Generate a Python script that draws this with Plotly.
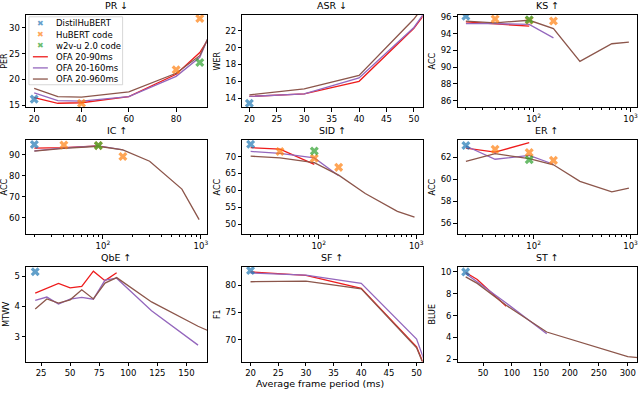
import plotly.graph_objects as go

# panel titles and metric names, in reading order
TASKS = ["PR ↓", "ASR ↓", "KS ↑", "IC ↑", "SID ↑", "ER ↑", "QbE ↑", "SF ↑", "ST ↑"]
METRICS = ["PER", "WER", "ACC", "ACC", "ACC", "ACC", "MTWV", "F1", "BLUE"]

# OFA curves (frame period in ms -> score); shorter lists use the first points of x
PR_X = [20, 30, 40, 60, 80, 90, 100]
PR_OFA90 = [16.5, 15.4, 15.5, 16.7, 21.0, 25.2, 32.5]
PR_OFA160 = [17.4, 15.9, 15.8, 16.7, 20.6, 24.3, 35.0]
PR_OFA960 = [18.3, 16.7, 16.6, 17.6, 21.2, 24.6, 34.3]

ASR_X = [20, 30, 40, 50, 60]
ASR_OFA90 = [14.2, 14.5, 16.0, 22.3, 31.0]
ASR_OFA160 = [14.2, 14.5, 16.4, 22.4, 31.5]
ASR_OFA960 = [14.4, 15.1, 16.7, 23.4, 32.0]

LOG_X = [20, 40, 90, 160, 300, 640, 960]
KS_OFA90 = [95.4, 95.2, 94.9]
KS_OFA160 = [95.2, 95.2, 95.1, 93.5]
KS_OFA960 = [95.5, 95.3, 95.6, 94.6, 90.7, 92.8, 93.0]

IC_OFA90 = [93.1, 93.3, 94.2]
IC_OFA160 = [91.8, 93.2, 94.2, 92.3]
IC_OFA960 = [91.7, 93.0, 94.0, 92.3, 86.9, 73.7, 59.2]

SID_OFA90 = [72.6, 72.2, 67.7]
SID_OFA160 = [71.5, 70.9, 69.6, 64.3]
SID_OFA960 = [70.1, 69.6, 68.2, 64.5, 59.1, 53.8, 52.1]

ER_OFA90 = [62.8, 62.45, 63.3]
ER_OFA160 = [63.0, 61.8, 62.15, 61.35]
ER_OFA960 = [61.6, 62.3, 61.85, 61.3, 59.8, 58.85, 59.2]

QBE_X = [20, 30, 40, 50, 60, 70, 80, 90, 120, 160, 300]
QBE_OFA90 = [4.44, 4.60, 4.76, 4.61, 4.66, 5.16, 4.85, 5.11]
QBE_OFA160 = [4.20, 4.31, 4.08, 4.24, 4.30, 4.24, 4.87, 4.93, 3.86, 2.73]
QBE_OFA960 = [3.92, 4.25, 4.11, 4.22, 4.55, 4.25, 4.77, 4.95, 4.15, 3.35, 1.0]

SF_X = [20, 30, 40, 50, 60]
SF_OFA90 = [82.4, 81.75, 79.4, 68.7, 44.0]
SF_OFA160 = [82.2, 81.8, 80.3, 70.1, 42.0]
SF_OFA960 = [80.6, 80.7, 79.3, 68.5, 44.0]

ST_X = [20, 40, 90, 160, 300, 640]
ST_OFA90 = [9.94, 9.3, 6.85]
ST_OFA160 = [9.85, 9.1, 7.15, 4.35]
ST_OFA960 = [9.55, 8.95, 6.94, 4.5, 2.25, 0.3]

# baselines
DISTIL_X = 20
DISTIL_Y = [16.2, 13.4, 96.08, 94.8, 73.6, 63.05, 5.14, 82.65, 10.0]
HUBERT_X = [[40, 80, 90], [], [40, 90, 160], [40, 90, 160], [40, 90, 160], [40, 90, 160], [], [], []]
HUBERT_Y = [[15.4, 21.9, 31.8], [], [95.75, 95.6, 95.5], [94.6, 94.3, 89.1],
            [71.5, 69.5, 66.8], [62.7, 62.4, 61.7], [], [], []]
W2VU_X = 90
W2VU_Y = [23.3, None, 95.65, 94.3, 71.6, 61.75, None, None, None]

CURVES = [
    (PR_X, PR_OFA90, PR_OFA160, PR_OFA960),
    (ASR_X, ASR_OFA90, ASR_OFA160, ASR_OFA960),
    (LOG_X, KS_OFA90, KS_OFA160, KS_OFA960),
    (LOG_X, IC_OFA90, IC_OFA160, IC_OFA960),
    (LOG_X, SID_OFA90, SID_OFA160, SID_OFA960),
    (LOG_X, ER_OFA90, ER_OFA160, ER_OFA960),
    (QBE_X, QBE_OFA90, QBE_OFA160, QBE_OFA960),
    (SF_X, SF_OFA90, SF_OFA160, SF_OFA960),
    (ST_X, ST_OFA90, ST_OFA160, ST_OFA960),
]

# axis setup per panel: (type, xrange, xdtick, yrange, ydtick)
AXES = [
    ("linear", [16.5, 93.2], 20, [14.6, 32.5], 5),
    ("linear", [18.7, 51.6], 5, [12.9, 23.9], 2),
    ("log", [1.215, 3.066], None, [85.2, 96.25], 2),
    ("log", [1.215, 3.066], None, [52.2, 97.0], 10),
    ("log", [1.215, 3.066], None, [47.0, 74.9], 5),
    ("log", [1.215, 3.066], None, [55.0, 63.55], 2),
    ("linear", [12, 168], 25, [2.19, 5.3], 1),
    ("linear", [18.5, 51.1], 5, [66.0, 83.3], 5),
    ("linear", [6, 316], 50, [1.8, 10.45], 2),
]

NAMES = ["DistilHuBERT", "HuBERT code", "w2v-u 2.0 code", "OFA 20-90ms", "OFA 20-160ms", "OFA 20-960ms"]
MARK_COLORS = ["rgba(31,119,180,0.7)", "rgba(255,127,14,0.7)", "rgba(44,160,44,0.7)"]
LINE_COLORS = ["#ee1c1c", "#9467bd", "#8c564b"]

W, H = 640, 399
COLS = [(25, 207), (242, 423), (458, 638)]
ROWS = [(12, 106), (139, 235), (268, 364)]
FONT = "DejaVu Sans"

fig = go.Figure()
annotations = []
shapes = []

for i, task in enumerate(TASKS):
    r, c = divmod(i, 3)
    sfx = "" if i == 0 else str(i + 1)
    xa, ya = "x" + sfx, "y" + sfx
    xs, l90, l160, l960 = CURVES[i]

    for ys, col in zip([l90, l160, l960], LINE_COLORS):
        fig.add_trace(go.Scatter(x=xs[:len(ys)], y=ys, mode="lines", xaxis=xa, yaxis=ya,
                                 line=dict(color=col, width=1.3), showlegend=False))

    mk = dict(symbol="x", size=8, line=dict(width=0))
    fig.add_trace(go.Scatter(x=[DISTIL_X], y=[DISTIL_Y[i]], mode="markers", xaxis=xa, yaxis=ya,
                             marker=dict(color=MARK_COLORS[0], **mk), showlegend=False))
    if HUBERT_X[i]:
        fig.add_trace(go.Scatter(x=HUBERT_X[i], y=HUBERT_Y[i], mode="markers", xaxis=xa, yaxis=ya,
                                 marker=dict(color=MARK_COLORS[1], **mk), showlegend=False))
    if W2VU_Y[i] is not None:
        fig.add_trace(go.Scatter(x=[W2VU_X], y=[W2VU_Y[i]], mode="markers", xaxis=xa, yaxis=ya,
                                 marker=dict(color=MARK_COLORS[2], **mk), showlegend=False))

    typ, xr, xd, yr, yd = AXES[i]
    x0, x1 = COLS[c]
    y0, y1 = ROWS[r]
    common = dict(showline=True, mirror=True, linecolor="black", linewidth=0.8,
                  ticks="outside", ticklen=3.5, tickwidth=0.8, tickcolor="black",
                  showgrid=False, zeroline=False,
                  tickfont=dict(family=FONT, size=8.5, color="black"))
    xaxis = dict(domain=[x0 / W, x1 / W], anchor=ya, type=typ, range=xr, **common)
    if typ == "log":
        xaxis.update(tickvals=[100, 1000], ticktext=["10<sup>2</sup>", "10<sup>3</sup>"],
                     minor=dict(ticks="outside", ticklen=2, tickwidth=0.6, tickcolor="black",
                                tickvals=[20, 30, 40, 50, 60, 70, 80, 90,
                                          200, 300, 400, 500, 600, 700, 800, 900]))
    else:
        xaxis.update(dtick=xd, tick0=0)
    yaxis = dict(domain=[1 - y1 / H, 1 - y0 / H], anchor=xa, range=yr, dtick=yd, tick0=0,
                 title=dict(text=METRICS[i], font=dict(family=FONT, size=8, color="black"),
                            standoff=3), **common)
    fig.update_layout({"xaxis" + sfx: xaxis, "yaxis" + sfx: yaxis})

    annotations.append(dict(text=task, xref="paper", yref="paper",
                            x=(x0 + x1) / 2 / W, y=1 - (y0 - 2) / H, xanchor="center",
                            yanchor="bottom", showarrow=False,
                            font=dict(family=FONT, size=9.5, color="black")))

annotations.append(dict(text="Average frame period (ms)", xref="paper", yref="paper",
                        x=320 / W, y=1 - 386 / H, xanchor="center", yanchor="middle",
                        showarrow=False, font=dict(family=FONT, size=9.5, color="black")))

# legend box in the PR panel
shapes.append(dict(type="rect", xref="paper", yref="paper", x0=28 / W, x1=122 / W,
                   y0=1 - 83 / H, y1=1 - 14 / H, line=dict(color="#cccccc", width=0.8),
                   fillcolor="rgba(255,255,255,0.8)", layer="above"))
for k, name in enumerate(NAMES):
    yc = 1 - (20.7 + 11.3 * k) / H
    if k < 3:
        annotations.append(dict(text="✖", xref="paper", yref="paper", x=39.5 / W, y=yc,
                                xanchor="center", yanchor="middle", showarrow=False,
                                font=dict(family=FONT, size=8, color=MARK_COLORS[k])))
    else:
        shapes.append(dict(type="line", xref="paper", yref="paper", x0=32 / W, x1=47 / W,
                           y0=yc, y1=yc, line=dict(color=LINE_COLORS[k - 3], width=1.3),
                           layer="above"))
    annotations.append(dict(text=name, xref="paper", yref="paper", x=53 / W, y=yc,
                            xanchor="left", yanchor="middle", showarrow=False,
                            font=dict(family=FONT, size=8.5, color="black")))

fig.update_layout(width=W, height=H, margin=dict(l=0, r=0, t=0, b=0),
                  plot_bgcolor="white", paper_bgcolor="white", hovermode=False,
                  annotations=annotations, shapes=shapes, showlegend=False)

# drop the browser's default 8px body margin so the figure sits at the page corner
fig.write_html("out.html", config={"displayModeBar": False},
               post_script="document.body.style.margin = '0';")
